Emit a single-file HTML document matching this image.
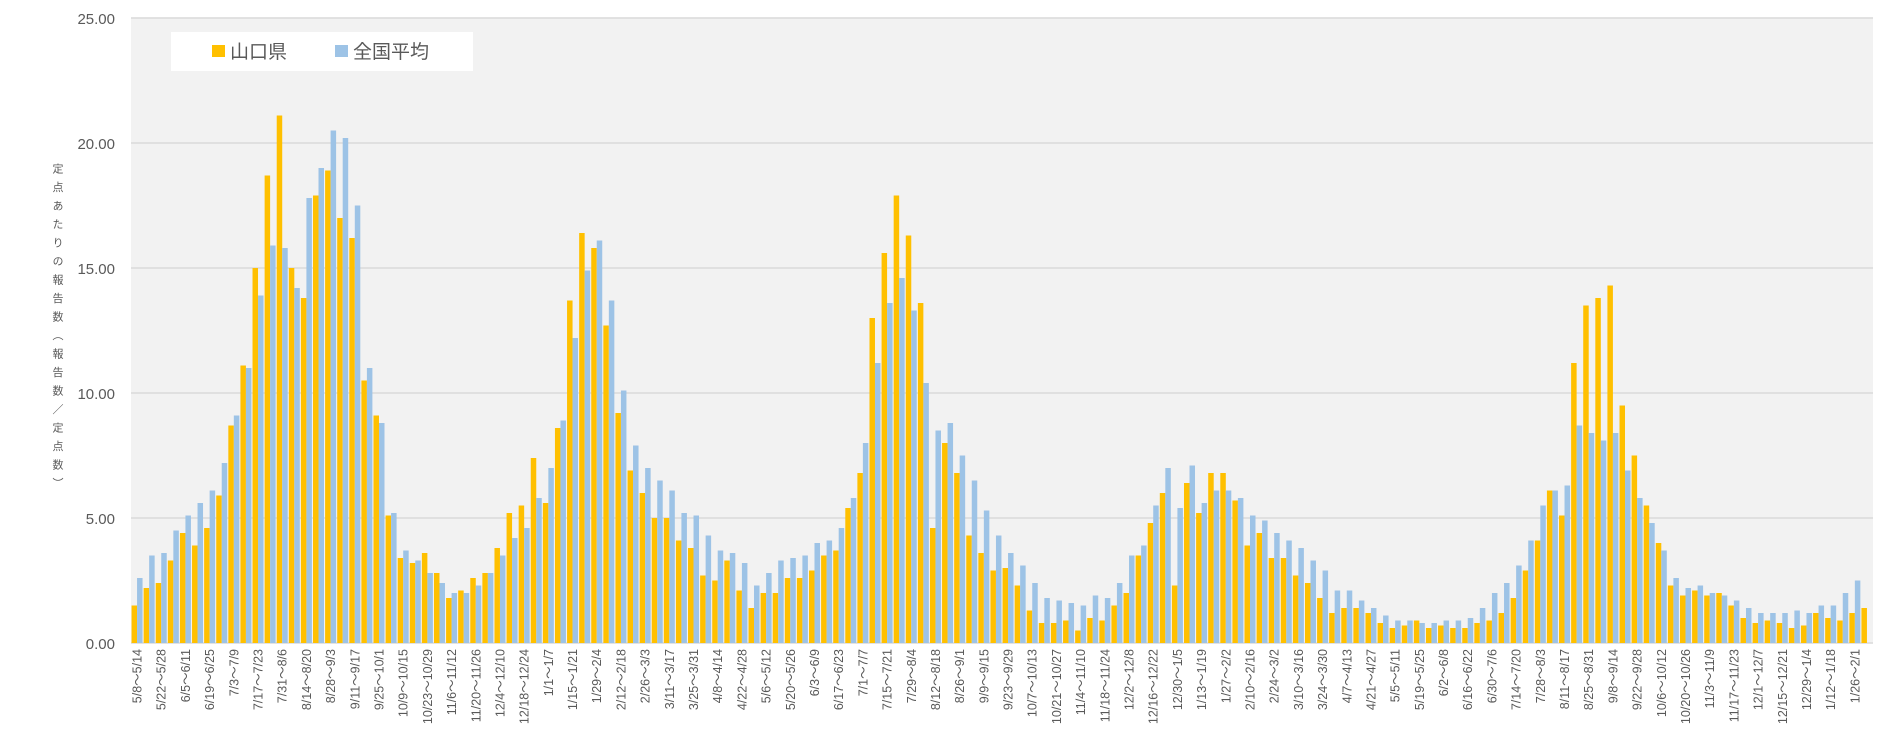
<!DOCTYPE html>
<html><head><meta charset="utf-8"><style>
body{margin:0;background:#fff;}
svg{display:block;font-family:"Liberation Sans","Noto Sans CJK JP",sans-serif;}
</style></head><body>
<svg id="c" width="1885" height="741" viewBox="0 0 1885 741" xmlns="http://www.w3.org/2000/svg">
<rect x="131" y="18" width="1742" height="625" fill="#f2f2f2"/>
<g stroke="#d9d9d9" stroke-width="1.5">
<line x1="131" x2="1873" y1="18" y2="18"/>
<line x1="131" x2="1873" y1="143" y2="143"/>
<line x1="131" x2="1873" y1="268" y2="268"/>
<line x1="131" x2="1873" y1="393" y2="393"/>
<line x1="131" x2="1873" y1="518" y2="518"/>
<line x1="131" x2="1873" y1="643" y2="643"/>
</g>
<g id="bars"></g>
<g fill="#595959" font-size="15" text-anchor="end">
<text x="115" y="24">25.00</text>
<text x="115" y="149">20.00</text>
<text x="115" y="274">15.00</text>
<text x="115" y="399">10.00</text>
<text x="115" y="524">5.00</text>
<text x="115" y="649">0.00</text>
</g>
<text x="57" y="163" font-size="11" fill="#595959" style="writing-mode:tb;letter-spacing:7.5px" >定点あたりの報告数（報告数／定点数）</text>
<rect x="171" y="32" width="302" height="39" fill="#fff"/>
<rect x="212" y="45" width="13" height="12" fill="#FFC000"/>
<text x="230" y="58" font-size="19" fill="#595959">山口県</text>
<rect x="335" y="45" width="13" height="12" fill="#9DC3E6"/>
<text x="353" y="58" font-size="19" fill="#595959">全国平均</text>
<g id="lbl" fill="#595959" font-size="12.5" text-anchor="end">
<text>5/8～5/14</text><text>5/22～5/28</text><text>6/5～6/11</text><text>6/19～6/25</text><text>7/3～7/9</text><text>7/17～7/23</text><text>7/31～8/6</text><text>8/14～8/20</text><text>8/28～9/3</text><text>9/11～9/17</text><text>9/25～10/1</text><text>10/9～10/15</text><text>10/23～10/29</text><text>11/6～11/12</text><text>11/20～11/26</text><text>12/4～12/10</text><text>12/18～12/24</text><text>1/1～1/7</text><text>1/15～1/21</text><text>1/29～2/4</text><text>2/12～2/18</text><text>2/26～3/3</text><text>3/11～3/17</text><text>3/25～3/31</text><text>4/8～4/14</text><text>4/22～4/28</text><text>5/6～5/12</text><text>5/20～5/26</text><text>6/3～6/9</text><text>6/17～6/23</text><text>7/1～7/7</text><text>7/15～7/21</text><text>7/29～8/4</text><text>8/12～8/18</text><text>8/26～9/1</text><text>9/9～9/15</text><text>9/23～9/29</text><text>10/7～10/13</text><text>10/21～10/27</text><text>11/4～11/10</text><text>11/18～11/24</text><text>12/2～12/8</text><text>12/16～12/22</text><text>12/30～1/5</text><text>1/13～1/19</text><text>1/27～2/2</text><text>2/10～2/16</text><text>2/24～3/2</text><text>3/10～3/16</text><text>3/24～3/30</text><text>4/7～4/13</text><text>4/21～4/27</text><text>5/5～5/11</text><text>5/19～5/25</text><text>6/2～6/8</text><text>6/16～6/22</text><text>6/30～7/6</text><text>7/14～7/20</text><text>7/28～8/3</text><text>8/11～8/17</text><text>8/25～8/31</text><text>9/8～9/14</text><text>9/22～9/28</text><text>10/6～10/12</text><text>10/20～10/26</text><text>11/3～11/9</text><text>11/17～11/23</text><text>12/1～12/7</text><text>12/15～12/21</text><text>12/29～1/4</text><text>1/12～1/18</text><text>1/26～2/1</text>
</g>
</svg>
<script>
var d=[[1.5,2.6],[2.2,3.5],[2.4,3.6],[3.3,4.5],[4.4,5.1],[3.9,5.6],[4.6,6.1],[5.9,7.2],[8.7,9.1],[11.1,11.0],
[15.0,13.9],[18.7,15.9],[21.1,15.8],[15.0,14.2],[13.8,17.8],[17.9,19.0],[18.9,20.5],[17.0,20.2],[16.2,17.5],[10.5,11.0],
[9.1,8.8],[5.1,5.2],[3.4,3.7],[3.2,3.3],[3.6,2.8],[2.8,2.4],[1.8,2.0],[2.1,2.0],[2.6,2.3],[2.8,2.8],
[3.8,3.5],[5.2,4.2],[5.5,4.6],[7.4,5.8],[5.6,7.0],[8.6,8.9],[13.7,12.2],[16.4,14.9],[15.8,16.1],[12.7,13.7],
[9.2,10.1],[6.9,7.9],[6.0,7.0],[5.0,6.5],[5.0,6.1],[4.1,5.2],[3.8,5.1],[2.7,4.3],[2.5,3.7],[3.3,3.6],
[2.1,3.2],[1.4,2.3],[2.0,2.8],[2.0,3.3],[2.6,3.4],[2.6,3.5],[2.9,4.0],[3.5,4.1],[3.7,4.6],[5.4,5.8],
[6.8,8.0],[13.0,11.2],[15.6,13.6],[17.9,14.6],[16.3,13.3],[13.6,10.4],[4.6,8.5],[8.0,8.8],[6.8,7.5],[4.3,6.5],
[3.6,5.3],[2.9,4.3],[3.0,3.6],[2.3,3.1],[1.3,2.4],[0.8,1.8],[0.8,1.7],[0.9,1.6],[0.5,1.5],[1.0,1.9],
[0.9,1.8],[1.5,2.4],[2.0,3.5],[3.5,3.9],[4.8,5.5],[6.0,7.0],[2.3,5.4],[6.4,7.1],[5.2,5.6],[6.8,6.1],
[6.8,6.1],[5.7,5.8],[3.9,5.1],[4.4,4.9],[3.4,4.4],[3.4,4.1],[2.7,3.8],[2.4,3.3],[1.8,2.9],[1.2,2.1],
[1.4,2.1],[1.4,1.7],[1.2,1.4],[0.8,1.1],[0.6,0.9],[0.7,0.9],[0.9,0.8],[0.6,0.8],[0.7,0.9],[0.6,0.9],
[0.6,1.0],[0.8,1.4],[0.9,2.0],[1.2,2.4],[1.8,3.1],[2.9,4.1],[4.1,5.5],[6.1,6.1],[5.1,6.3],[11.2,8.7],
[13.5,8.4],[13.8,8.1],[14.3,8.4],[9.5,6.9],[7.5,5.8],[5.5,4.8],[4.0,3.7],[2.3,2.6],[1.9,2.2],[2.1,2.3],
[1.9,2.0],[2.0,1.9],[1.5,1.7],[1.0,1.4],[0.8,1.2],[0.9,1.2],[0.8,1.2],[0.6,1.3],[0.7,1.2],[1.2,1.5],
[1.0,1.5],[0.9,2.0],[1.2,2.5],[1.4,0]];
var g=document.getElementById('bars'),s='',W=1742/144;
d.forEach(function(p,i){var x=131+i*W+0.55,bw=(W-1.1)/2;
if(p[0])s+='<rect x="'+x.toFixed(2)+'" y="'+(643-p[0]*25).toFixed(1)+'" width="'+bw.toFixed(2)+'" height="'+(p[0]*25).toFixed(1)+'" fill="#FFC000"/>';
if(p[1])s+='<rect x="'+(x+bw).toFixed(2)+'" y="'+(643-p[1]*25).toFixed(1)+'" width="'+bw.toFixed(2)+'" height="'+(p[1]*25).toFixed(1)+'" fill="#9DC3E6"/>';});
g.innerHTML=s;
var t=document.querySelectorAll('#lbl text');
t.forEach(function(e,k){var cx=131+(2*k+0.5)*W+4.5;e.setAttribute('transform','translate('+cx.toFixed(1)+',649) rotate(-90)');});
</script>
</body></html>
